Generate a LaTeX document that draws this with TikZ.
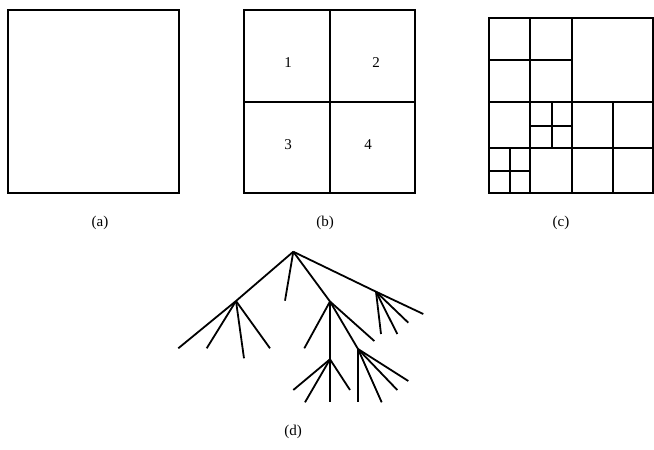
\documentclass[tikz,border=0pt]{standalone}
\usepackage{fontspec}
\setmainfont{Liberation Serif}
\begin{document}
\begin{tikzpicture}[x=1pt,y=-1pt,line width=1.8pt,
  lbl/.style={font=\fontsize{15}{18}\selectfont,inner sep=0pt},
  edge/.style={line width=1.8pt}]
\useasboundingbox (0,0) rectangle (654,450);
% (a)
\draw (8,10) rectangle (179,193);
\node[lbl] (la) at (100,223) {(a)};
% (b)
\draw (244,10) rectangle (415,193);
\draw (330,10) -- (330,193);
\draw (244,102) -- (415,102);
\node[lbl] (n1) at (288,63) {1};
\node[lbl] (n2) at (376,63) {2};
\node[lbl] (n3) at (288,145) {3};
\node[lbl] (n4) at (368,145) {4};
\node[lbl] (lb) at (325,223) {(b)};
% (c)
\draw (489,18) rectangle (653,193);
\draw (530,18) -- (530,193);
\draw (572,18) -- (572,193);
\draw (613,102) -- (613,193);
\draw (489,102) -- (653,102);
\draw (489,148) -- (653,148);
\draw (489,60) -- (572,60);
\draw (552,102) -- (552,148);
\draw (530,126) -- (572,126);
\draw (510,148) -- (510,193);
\draw (489,171) -- (530,171);
\node[lbl] (lc) at (561,223) {(c)};
% (d) tree
\coordinate (r) at (293.3,251.7);
\coordinate (A) at (236,301);
\coordinate (B) at (330,301.5);
\coordinate (C) at (376,291.7);
\coordinate (D) at (330,359.3);
\coordinate (E) at (358,349);
\coordinate (l1) at (285,300.7);
\coordinate (a1) at (178.3,348.3);
\coordinate (a2) at (206.7,348.3);
\coordinate (a3) at (244,358.3);
\coordinate (a4) at (270,348.3);
\coordinate (b1) at (304.3,348.3);
\coordinate (b2) at (374.3,341);
\coordinate (c1) at (381,334);
\coordinate (c2) at (397.3,334);
\coordinate (c3) at (408.3,322.7);
\coordinate (c4) at (423.3,314);
\coordinate (d1) at (293.3,390);
\coordinate (d2) at (305,402.3);
\coordinate (d3) at (330,402.3);
\coordinate (d4) at (350,390);
\coordinate (e1) at (358,402.3);
\coordinate (e2) at (381.7,402.3);
\coordinate (e3) at (397.3,390);
\coordinate (e4) at (408.3,381);
\foreach \p/\c in {r/A,r/l1,r/B,r/C,A/a1,A/a2,A/a3,A/a4,B/b1,B/D,B/b2,B/E,C/c1,C/c2,C/c3,C/c4,D/d1,D/d2,D/d3,D/d4,E/e1,E/e2,E/e3,E/e4}
  \draw[edge] (\p) -- (\c);
\node[lbl] (ld) at (293,432) {(d)};
\end{tikzpicture}
\end{document}
